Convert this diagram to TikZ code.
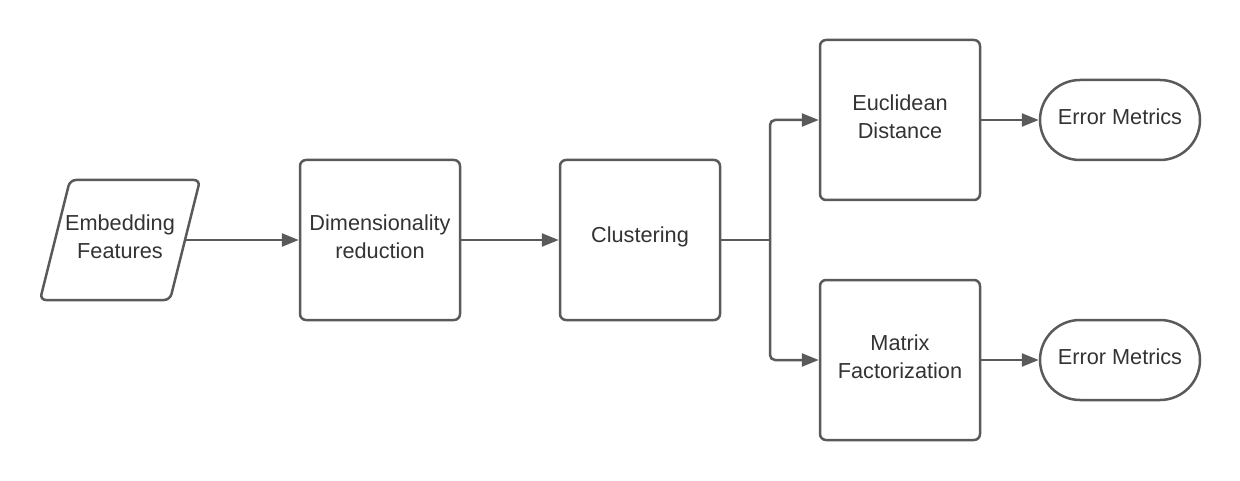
\documentclass[tikz,border=0pt]{standalone}
\usepackage{fontspec}
\setmainfont{Liberation Sans}
\usetikzlibrary{arrows.meta}
\definecolor{lc}{HTML}{5A5A5A}
\definecolor{tc}{HTML}{333333}
\begin{document}
\begin{tikzpicture}[x=1pt,y=1pt,
  txt/.style={font=\fontsize{21.7}{28}\selectfont, text=tc, align=center, yshift=3pt},
  box/.style={draw=lc, line width=2.5pt, rounded corners=6pt, minimum width=160pt, minimum height=160pt, inner sep=0pt},
  term/.style={draw=lc, line width=2.5pt, rounded corners=40pt, minimum width=160pt, minimum height=80pt, inner sep=0pt},
  conn/.style={draw=lc, line width=2.5pt, -{Triangle[length=17pt,width=13pt]}},
  branch/.style={draw=lc, line width=2.5pt, rounded corners=5pt, -{Triangle[length=17pt,width=13pt]}}]
\useasboundingbox (0,0) rectangle (1240,480);
% parallelogram
\draw[lc, line width=2.5pt, rounded corners=6pt] (70,300) -- (200,300) -- (170,180) -- (40,180) -- cycle;
\node[txt] (emb) at (120,240) {Embedding\\Features};
\coordinate (embr) at (185,240);
\node[box, label={[txt]center:Dimensionality\\reduction}] (dim) at (380,240) {};
\node[box, label={[txt]center:Clustering}] (clu) at (640,240) {};
\node[box, label={[txt]center:Euclidean\\Distance}] (euc) at (900,360) {};
\node[box, label={[txt]center:Matrix\\Factorization}] (mat) at (900,120) {};
\node[term, label={[txt]center:Error Metrics}] (e1) at (1120,360) {};
\node[term, label={[txt]center:Error Metrics}] (e2) at (1120,120) {};
\coordinate (j) at (770,240);
\draw[conn] (embr) -- (dim.west);
\draw[conn] (dim.east) -- (clu.west);
\draw[lc, line width=2.5pt] (clu.east) -- (j);
\draw[branch] (j) |- (euc.west);
\draw[branch] (j) |- (mat.west);
\draw[conn] (euc.east) -- (e1.west);
\draw[conn] (mat.east) -- (e2.west);
\end{tikzpicture}
\end{document}
